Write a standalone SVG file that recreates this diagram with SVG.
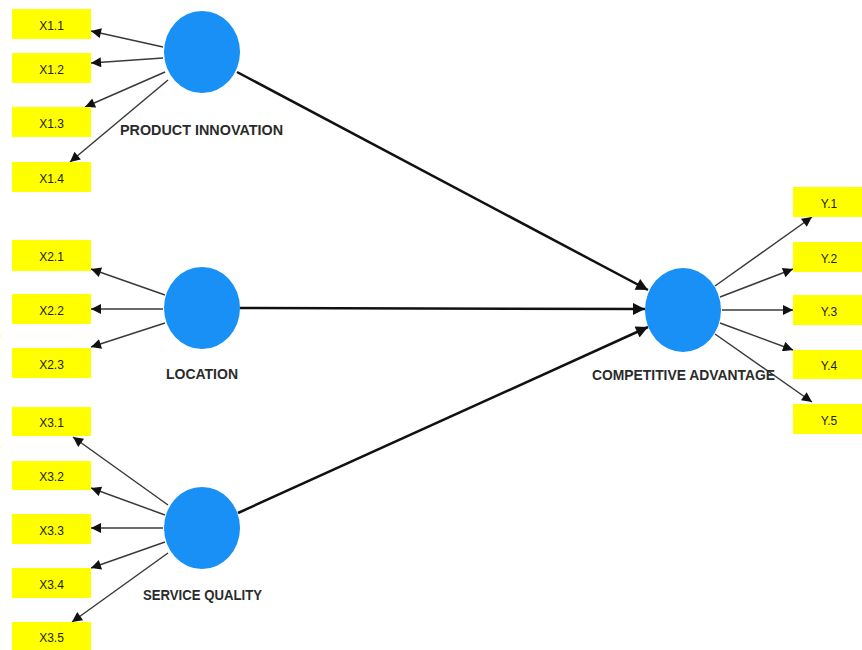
<svg xmlns="http://www.w3.org/2000/svg" width="862" height="650" viewBox="0 0 862 650">
  <style>
    .ind { fill: #ffff00; }
    .ind-t { font-family: "Liberation Sans", Arial, sans-serif; font-size: 12px; fill: #222; text-anchor: middle; dominant-baseline: central; }
    .lv { fill: #1990f5; }
    .lv-t { font-family: "Liberation Sans", Arial, sans-serif; font-size: 14px; font-weight: bold; fill: #2b2b2b; }
    .load { stroke: #3a3a3a; stroke-width: 1.5; fill: none; marker-end: url(#headS); }
    .path { stroke: #111; stroke-width: 2.5; fill: none; marker-end: url(#headL); }
  </style>
  <defs>
    <marker id="headS" markerUnits="userSpaceOnUse" viewBox="0 0 10 10" refX="10" refY="5" markerWidth="12" markerHeight="10" orient="auto">
      <path d="M0,0 L10,5 L0,10 z" fill="#111"/>
    </marker>
    <marker id="headL" markerUnits="userSpaceOnUse" viewBox="0 0 10 10" refX="10" refY="5" markerWidth="14" markerHeight="12" orient="auto">
      <path d="M0,0 L10,5 L0,10 z" fill="#111"/>
    </marker>
  </defs>
  <rect width="862" height="650" fill="#ffffff"/>

  <!-- connectors -->
  <g id="connectors">
    <!-- product innovation loadings -->
    <line class="load" x1="163" y1="47" x2="91" y2="31"/>
    <line class="load" x1="163" y1="58" x2="91" y2="63"/>
    <line class="load" x1="165" y1="72" x2="85" y2="107"/>
    <line class="load" x1="168" y1="80" x2="70" y2="162"/>
    <!-- location loadings -->
    <line class="load" x1="165" y1="295" x2="91" y2="269"/>
    <line class="load" x1="163" y1="309" x2="91" y2="309"/>
    <line class="load" x1="165" y1="323" x2="91" y2="347"/>
    <!-- service quality loadings -->
    <line class="load" x1="168" y1="505" x2="73" y2="437"/>
    <line class="load" x1="165" y1="515" x2="91" y2="488"/>
    <line class="load" x1="163" y1="528" x2="91" y2="528"/>
    <line class="load" x1="165" y1="542" x2="91" y2="568"/>
    <line class="load" x1="168" y1="553" x2="72" y2="622"/>
    <!-- competitive advantage loadings -->
    <line class="load" x1="715" y1="286" x2="812" y2="217"/>
    <line class="load" x1="720" y1="297" x2="793" y2="269"/>
    <line class="load" x1="722" y1="310" x2="793" y2="310"/>
    <line class="load" x1="720" y1="323" x2="793" y2="350"/>
    <line class="load" x1="715" y1="334" x2="812" y2="402"/>
    <!-- structural paths -->
    <line class="path" x1="237" y1="72" x2="648" y2="290"/>
    <line class="path" x1="240" y1="308" x2="645" y2="309"/>
    <line class="path" x1="238" y1="513" x2="648" y2="327"/>
  </g>

  <!-- latent variables -->
  <g id="product-innovation">
    <ellipse class="lv" cx="202" cy="52" rx="38" ry="41"/>
    <text class="lv-t" x="120" y="135" textLength="163" lengthAdjust="spacingAndGlyphs">PRODUCT INNOVATION</text>
  </g>
  <g id="location">
    <ellipse class="lv" cx="202" cy="308" rx="38" ry="41"/>
    <text class="lv-t" x="166" y="379" textLength="72" lengthAdjust="spacingAndGlyphs">LOCATION</text>
  </g>
  <g id="service-quality">
    <ellipse class="lv" cx="202" cy="528" rx="38" ry="41"/>
    <text class="lv-t" x="143" y="600" textLength="119" lengthAdjust="spacingAndGlyphs">SERVICE QUALITY</text>
  </g>
  <g id="competitive-advantage">
    <ellipse class="lv" cx="683" cy="310" rx="38" ry="42"/>
    <text class="lv-t" x="592" y="380" textLength="183" lengthAdjust="spacingAndGlyphs">COMPETITIVE ADVANTAGE</text>
  </g>

  <!-- indicators -->
  <g id="X1.1"><rect class="ind" x="12" y="9" width="79" height="30"/><text class="ind-t" x="51.5" y="25.5">X1.1</text></g>
  <g id="X1.2"><rect class="ind" x="12" y="53" width="79" height="30"/><text class="ind-t" x="51.5" y="69.5">X1.2</text></g>
  <g id="X1.3"><rect class="ind" x="12" y="107" width="79" height="30"/><text class="ind-t" x="51.5" y="123.5">X1.3</text></g>
  <g id="X1.4"><rect class="ind" x="12" y="162" width="79" height="30"/><text class="ind-t" x="51.5" y="178.5">X1.4</text></g>

  <g id="X2.1"><rect class="ind" x="12" y="240" width="79" height="31"/><text class="ind-t" x="51.5" y="257">X2.1</text></g>
  <g id="X2.2"><rect class="ind" x="12" y="294" width="79" height="30"/><text class="ind-t" x="51.5" y="310.5">X2.2</text></g>
  <g id="X2.3"><rect class="ind" x="12" y="348" width="79" height="30"/><text class="ind-t" x="51.5" y="364.5">X2.3</text></g>

  <g id="X3.1"><rect class="ind" x="12" y="407" width="79" height="29"/><text class="ind-t" x="51.5" y="423">X3.1</text></g>
  <g id="X3.2"><rect class="ind" x="12" y="461" width="79" height="29"/><text class="ind-t" x="51.5" y="477">X3.2</text></g>
  <g id="X3.3"><rect class="ind" x="12" y="514" width="79" height="30"/><text class="ind-t" x="51.5" y="530.5">X3.3</text></g>
  <g id="X3.4"><rect class="ind" x="12" y="568" width="79" height="30"/><text class="ind-t" x="51.5" y="584.5">X3.4</text></g>
  <g id="X3.5"><rect class="ind" x="12" y="622" width="79" height="28"/><text class="ind-t" x="51.5" y="638">X3.5</text></g>

  <g id="Y.1"><rect class="ind" x="793" y="187" width="69" height="30"/><text class="ind-t" x="829" y="203.5">Y.1</text></g>
  <g id="Y.2"><rect class="ind" x="793" y="242" width="69" height="30"/><text class="ind-t" x="829" y="258.5">Y.2</text></g>
  <g id="Y.3"><rect class="ind" x="793" y="295" width="69" height="30"/><text class="ind-t" x="829" y="311.5">Y.3</text></g>
  <g id="Y.4"><rect class="ind" x="793" y="350" width="69" height="29"/><text class="ind-t" x="829" y="366">Y.4</text></g>
  <g id="Y.5"><rect class="ind" x="793" y="404" width="69" height="30"/><text class="ind-t" x="829" y="420.5">Y.5</text></g>
</svg>
